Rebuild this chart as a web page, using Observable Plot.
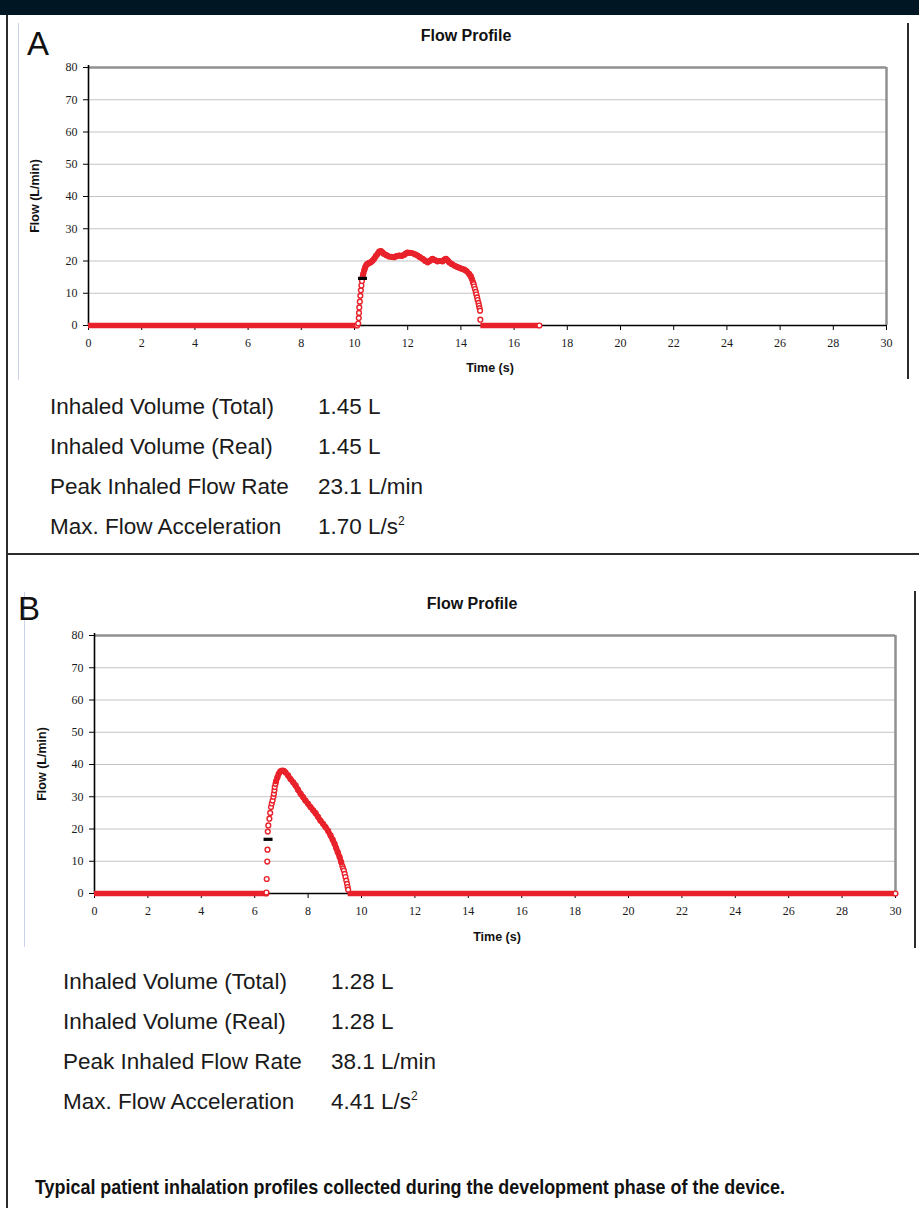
<!DOCTYPE html>
<html>
<head>
<meta charset="utf-8">
<script src="https://cdn.jsdelivr.net/npm/d3@7"></script>
<script src="https://cdn.jsdelivr.net/npm/@observablehq/plot@0.6"></script>
<style>
  html, body { margin: 0; padding: 0; background: #fff; }
  body { width: 919px; height: 1208px; position: relative; overflow: hidden; font-family: "Liberation Sans", Arial, sans-serif; color: #111; }
  .abs { position: absolute; }
  .bar { left: 0; top: 0; width: 919px; height: 15px; background: #011623; }
  .vline { width: 2px; background: #2b2b2b; }
  .blue { width: 1px; background: #c9d2e6; }
  .letter { font-size: 33px; line-height: 33px; color: #111; }
  .title { font-weight: bold; font-size: 16px; line-height: 16px; white-space: nowrap; transform: translateX(-50%); }
  .xlabel { font-weight: bold; font-size: 12.5px; line-height: 14px; white-space: nowrap; transform: translateX(-50%); }
  .ylabel { font-weight: bold; font-size: 12.5px; line-height: 14px; white-space: nowrap; transform: translate(-50%, -50%) rotate(-90deg); }
  .stat { font-size: 22.5px; line-height: 24px; white-space: nowrap; color: #1a1a1a; }
  .stat sup { font-size: 12px; vertical-align: 9px; line-height: 0; }
  .caption { font-weight: bold; font-size: 20.5px; line-height: 22px; white-space: nowrap; transform-origin: 0 50%; font-family: "Liberation Sans Narrow", "Liberation Sans", Arial, sans-serif; color: #111; }
  .chart { position: absolute; }
</style>
</head>
<body>
<script>
// ---------- data ----------
const xTicks = [0, 2, 4, 6, 8, 10, 12, 14, 16, 18, 20, 22, 24, 26, 28, 30];
const yTicks = [0, 10, 20, 30, 40, 50, 60, 70, 80];
const chartTitle = "Flow Profile";
const xLabel = "Time (s)";
const yLabel = "Flow (L/min)";
const statLabels = ["Inhaled Volume (Total)", "Inhaled Volume (Real)", "Peak Inhaled Flow Rate", "Max. Flow Acceleration"];
const statValuesA = ["1.45 L", "1.45 L", "23.1 L/min", "1.70 L/s<sup>2</sup>"];
const statValuesB = ["1.28 L", "1.28 L", "38.1 L/min", "4.41 L/s<sup>2</sup>"];
const captionText = "Typical patient inhalation profiles collected during the development phase of the device.";

// Panel A: zero-flow intervals [start, end] (s)
const baselineA = [[0, 10.1], [14.75, 16.95]];
// Panel A: sparse rising samples [t, flow]
const riseA = [[10.14, 0.6], [10.16, 2.3], [10.17, 3.9], [10.18, 5.6], [10.2, 7.4], [10.22, 9.2], [10.24, 10.9], [10.26, 12.4], [10.28, 13.8], [10.31, 15.2]];
// Panel A: dense body samples [t, flow]
const bodyA = [[10.33, 16.0], [10.37, 17.2], [10.4, 18.0], [10.45, 18.8], [10.49, 19.1], [10.55, 19.4], [10.61, 19.6], [10.68, 20.1], [10.74, 20.7], [10.8, 21.5], [10.87, 22.2], [10.93, 22.9], [10.99, 23.1], [11.05, 22.7], [11.11, 22.2], [11.2, 21.8], [11.3, 21.4], [11.4, 21.3], [11.49, 21.2], [11.58, 21.5], [11.68, 21.7], [11.78, 21.6], [11.87, 21.9], [11.93, 22.3], [11.99, 22.6], [12.08, 22.5], [12.18, 22.4], [12.27, 22.1], [12.37, 21.7], [12.46, 21.2], [12.56, 20.7], [12.65, 20.1], [12.75, 19.6], [12.84, 20.1], [12.93, 20.7], [13.02, 20.3], [13.12, 19.9], [13.21, 20.0], [13.31, 19.9], [13.38, 20.4], [13.44, 20.7], [13.5, 20.2], [13.56, 19.6], [13.65, 19.1], [13.75, 18.6], [13.85, 18.2], [13.94, 17.9], [14.03, 17.6], [14.13, 17.3], [14.22, 16.8], [14.31, 16.0], [14.37, 15.3], [14.41, 14.5]];
// Panel A: sparse falling samples [t, flow]
const fallA = [[14.45, 13.5], [14.48, 12.8], [14.5, 12.1], [14.53, 11.3], [14.56, 10.4], [14.58, 9.6], [14.61, 8.7], [14.63, 7.9], [14.66, 7.0], [14.68, 6.2], [14.7, 5.4], [14.72, 4.6], [14.73, 1.8]];
// Panel A: black marker [t, flow]
const markerA = [[10.3, 14.6]];

// Panel B
const baselineB = [[0, 6.44], [9.5, 30]];
const riseB = [[6.44, 0.3], [6.45, 4.5], [6.47, 9.9], [6.48, 13.6], [6.49, 19.2], [6.51, 21.1], [6.55, 23.2], [6.58, 25.0], [6.61, 26.8], [6.64, 27.9], [6.67, 28.8], [6.7, 30.0], [6.72, 30.9], [6.74, 32.0], [6.75, 33.0], [6.78, 34.0]];
const bodyB = [[6.8, 34.8], [6.85, 36.0], [6.9, 37.1], [6.96, 37.9], [7.03, 38.1], [7.09, 38.0], [7.15, 37.6], [7.25, 36.6], [7.34, 35.5], [7.44, 34.5], [7.53, 33.5], [7.62, 32.2], [7.72, 30.9], [7.81, 29.9], [7.9, 28.8], [8.0, 27.8], [8.09, 26.8], [8.19, 25.8], [8.28, 24.9], [8.37, 23.8], [8.46, 22.6], [8.56, 21.6], [8.65, 20.6], [8.75, 19.4], [8.84, 18.0], [8.92, 16.7], [8.99, 15.4], [9.05, 14.1], [9.11, 12.8], [9.18, 11.3], [9.24, 9.7]];
const fallB = [[9.28, 8.6], [9.31, 7.8], [9.34, 7.1], [9.37, 6.1], [9.4, 5.1], [9.43, 4.0], [9.46, 3.0], [9.48, 2.0], [9.5, 1.2]];
const markerB = [[6.5, 16.8]];

// ---------- styling ----------
const RED = "#e8212a";
const dashSymbol = { draw(ctx) { ctx.rect(-4.5, -1.6, 9, 3.2); } };

function el(cls, style, html) {
  const d = document.createElement("div");
  d.className = "abs " + cls;
  Object.assign(d.style, style);
  if (html != null) d.innerHTML = html;
  document.body.appendChild(d);
  return d;
}

function chart(o) {
  const dotOpts = { x: d => d[0], y: d => d[1], r: 2.4, stroke: RED, strokeWidth: 1.4, fill: "white" };
  const svg = Plot.plot({
    width: o.width, height: o.height,
    marginLeft: o.ml, marginRight: o.mr, marginTop: o.mt, marginBottom: o.mb,
    style: { background: "transparent", overflow: "visible", fontFamily: "'Liberation Serif', 'Times New Roman', serif", fontSize: "12px", color: "#1a1a1a" },
    x: { domain: [0, 30] },
    y: { domain: [0, 80] },
    marks: [
      Plot.gridY(yTicks.slice(1, -1), { stroke: "#c3c3c3", strokeOpacity: 1, strokeWidth: 1 }),
      Plot.ruleY([80], { stroke: "#909090", strokeWidth: 2.5 }),
      Plot.ruleX([30], { stroke: "#909090", strokeWidth: 2.5 }),
      Plot.axisY(yTicks, { tickSize: 5, tickPadding: 6, label: null, stroke: "#000", fill: "#1a1a1a", fontSize: 12 }),
      Plot.axisX(xTicks, { tickSize: 5, tickPadding: 8, label: null, stroke: "#000", fill: "#1a1a1a", fontSize: 12 }),
      Plot.ruleX([0], { y1: 80, y2: 0, stroke: "#000", strokeWidth: 1.6, insetTop: -2 }),
      Plot.ruleY([0], { stroke: "#000", strokeWidth: 1.6 }),
      Plot.ruleY(o.baseline, { x1: d => d[0], x2: d => d[1], y: 0, stroke: RED, strokeWidth: 5.5 }),
      Plot.dot(o.baseline, { ...dotOpts, x: d => d[1], y: () => 0 }),
      Plot.dot(o.rise, dotOpts),
      Plot.dot(o.fall, dotOpts),
      Plot.dot(o.body, dotOpts),
      Plot.line(o.body, { x: d => d[0], y: d => d[1], stroke: RED, strokeWidth: 5.5, strokeLinejoin: "round", strokeLinecap: "round" }),
      Plot.dot(o.marker, { x: d => d[0], y: d => d[1], symbol: dashSymbol, fill: "#000", stroke: "none" })
    ]
  });
  svg.classList.add("chart");
  svg.style.left = o.left + "px";
  svg.style.top = o.top + "px";
  svg.style.position = "absolute";
  document.body.appendChild(svg);
}

// ---------- page frame ----------
el("bar", {});
el("vline", { left: "6px", top: "15px", height: "1193px" });
el("vline", { left: "8px", top: "553px", width: "911px", height: "2px" });

// ---------- Panel A ----------
el("blue", { left: "18px", top: "23px", height: "357px" });
el("vline", { left: "907px", top: "23px", height: "356px", width: "2px" });
el("letter", { left: "27px", top: "27px" }, "A");
el("title", { left: "466px", top: "28px" }, chartTitle);
chart({ left: 18, top: 20, width: 890, height: 360, ml: 70, mr: 22, mt: 47, mb: 55,
        baseline: baselineA, rise: riseA, body: bodyA, fall: fallA, marker: markerA });
el("xlabel", { left: "490px", top: "361px" }, xLabel);
el("ylabel", { left: "35px", top: "196px" }, yLabel);
statLabels.forEach((s, i) => {
  el("stat", { left: "50px", top: (395 + i * 40) + "px" }, s);
  el("stat", { left: "318px", top: (395 + i * 40) + "px" }, statValuesA[i]);
});

// ---------- Panel B ----------
el("blue", { left: "24px", top: "592px", height: "355px" });
el("vline", { left: "914px", top: "591px", height: "357px", width: "2px" });
el("letter", { left: "18px", top: "592px" }, "B");
el("title", { left: "472px", top: "596px" }, chartTitle);
chart({ left: 24, top: 590, width: 891, height: 358, ml: 70, mr: 20, mt: 45, mb: 55,
        baseline: baselineB, rise: riseB, body: bodyB, fall: fallB, marker: markerB });
el("xlabel", { left: "497px", top: "930px" }, xLabel);
el("ylabel", { left: "42px", top: "764px" }, yLabel);
statLabels.forEach((s, i) => {
  el("stat", { left: "63px", top: (970 + i * 40) + "px" }, s);
  el("stat", { left: "331px", top: (970 + i * 40) + "px" }, statValuesB[i]);
});

// ---------- caption ----------
const cap = el("caption", { left: "35px", top: "1176px" }, captionText);
const w = cap.getBoundingClientRect().width;
if (w > 0) cap.style.transform = `scaleX(${750 / w})`;
</script>
</body>
</html>
